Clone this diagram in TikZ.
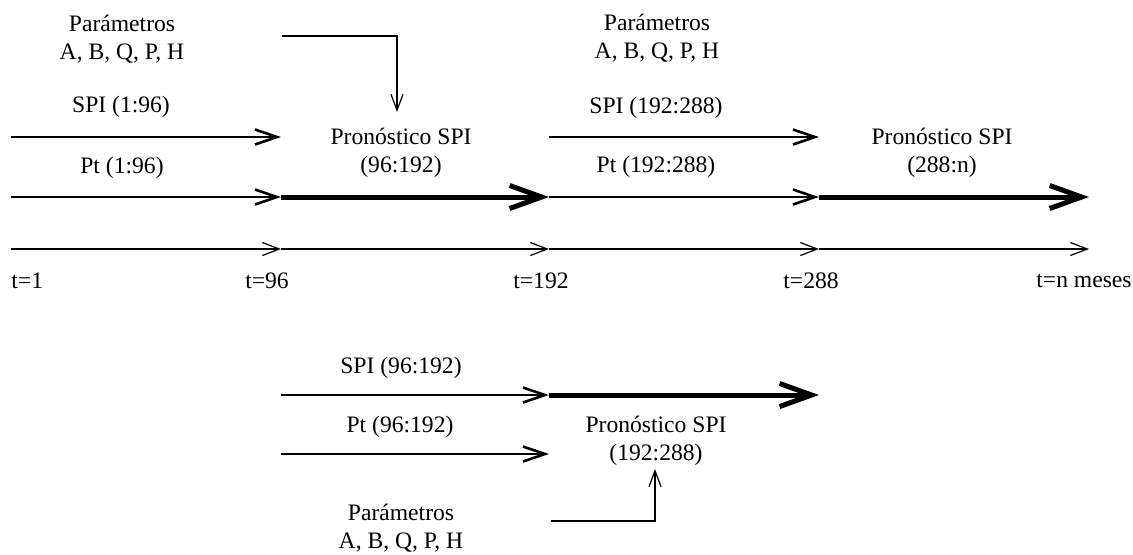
\documentclass[tikz,border=0pt]{standalone}
\usepackage{fontspec}
\setmainfont{Liberation Serif}
\usetikzlibrary{arrows.meta}

\begin{document}
\begin{tikzpicture}[x=0.5pt, y=-0.5pt,
      every node/.style={align=center, inner sep=0pt, font=\fontsize{11.8}{14}\selectfont},
      flecha/.style={-{Straight Barb[length=11pt,width=7.5pt]}, line width=1.3pt},
      gruesa/.style={-{Straight Barb[length=16pt,width=11.5pt]}, line width=2.5pt},
      eje/.style={-{Straight Barb[length=8.5pt,width=6.5pt]}, line width=0.6pt},
      conector/.style={-{Straight Barb[length=8pt,width=6pt]}, line width=0.6pt}]
  \useasboundingbox (0,0) rectangle (1133,554);
  % marcas de tiempo
  \foreach \n/\x in {a/11, b/281, c/549, d/819, e/1089} {
    \coordinate (s\n) at (\x,137);
    \coordinate (p\n) at (\x,197);
    \coordinate (t\n) at (\x,249);
  }
  % fila superior
  \node (param1) at (122,39) {Parámetros\\A, B, Q, P, H};
  \node (spi1) at (121,107) {SPI (1:96)};
  \node (pt1) at (122,168) {Pt (1:96)};
  \node (pron1) at (401,153) {Pronóstico SPI\\(96:192)};
  \node (param2) at (657,38) {Parámetros\\A, B, Q, P, H};
  \node (spi2) at (656,108) {SPI (192:288)};
  \node (pt2) at (656,167) {Pt (192:288)};
  \node (pron2) at (942,153) {Pronóstico SPI\\(288:n)};
  \coordinate (cx1) at (282,36);
  \coordinate (cy1) at (397,36);
  \coordinate (cz1) at (397,112);
  \draw[conector] (cx1) -- (cy1) -- (cz1);
  \draw[flecha] (sa) -- (sb);
  \draw[flecha] (sc) -- (sd);
  \draw[flecha] (pa) -- (pb);
  \draw[gruesa] (pb) -- (pc);
  \draw[flecha] (pc) -- (pd);
  \draw[gruesa] (pd) -- (pe);
  \draw[eje] (ta) -- (tb);
  \draw[eje] (tb) -- (tc);
  \draw[eje] (tc) -- (td);
  \draw[eje] (td) -- (te);
  % etiquetas del eje
  \node[anchor=west] (t1) at (11,281) {t=1};
  \node (t96) at (267,281) {t=96};
  \node (t192) at (541,281) {t=192};
  \node (t288) at (811,281) {t=288};
  \node (tn) at (1084,281) {t=n meses};
  % fila inferior
  \coordinate (sf) at (281,395);
  \coordinate (sg) at (549,395);
  \coordinate (sh) at (819,395);
  \coordinate (pf) at (281,454);
  \coordinate (pg) at (549,454);
  \node (spi3) at (401,368) {SPI (96:192)};
  \node (pt3) at (400,427) {Pt (96:192)};
  \node (pron3) at (656,441) {Pronóstico SPI\\(192:288)};
  \node (param3) at (401,528) {Parámetros\\A, B, Q, P, H};
  \draw[flecha] (sf) -- (sg);
  \draw[gruesa] (sg) -- (sh);
  \draw[flecha] (pf) -- (pg);
  \coordinate (cx3) at (551,521);
  \coordinate (cy3) at (655,521);
  \coordinate (cz3) at (655,469);
  \draw[conector] (cx3) -- (cy3) -- (cz3);
\end{tikzpicture}
\end{document}
